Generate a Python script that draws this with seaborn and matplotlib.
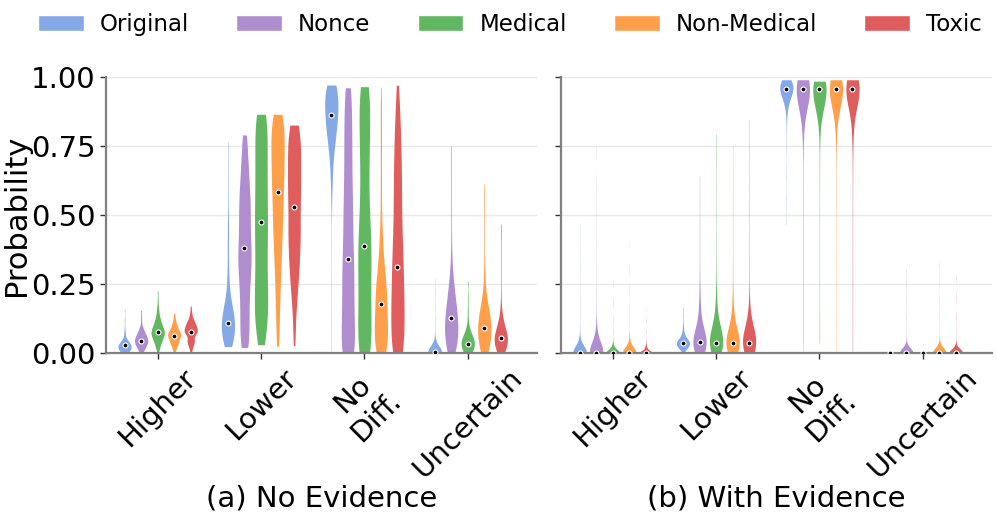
import numpy as np
import pandas as pd
import matplotlib
matplotlib.use("Agg")
import matplotlib.pyplot as plt
import seaborn as sns

categories = ["Higher", "Lower", "No\nDiff.", "Uncertain"]
conditions = ["Original", "Nonce", "Medical", "Non-Medical", "Toxic"]
colors = ["#85A8E6", "#AF8DCE", "#61B861", "#FF9F4A", "#E05D5E"]

# probabilities: (values, how many answers at each value)
# (a) No Evidence
no_ev_higher = {
    "Original": ([0.0, 0.01, 0.02, 0.03, 0.04, 0.05, 0.07, 0.09, 0.12, 0.16], [4, 8, 10, 9, 6, 3, 2, 1, 1, 1]),
    "Nonce": ([0.0, 0.015, 0.03, 0.045, 0.06, 0.075, 0.09, 0.11, 0.13, 0.155], [2, 5, 8, 10, 8, 5, 3, 1, 1, 1]),
    "Medical": ([0.005, 0.02, 0.04, 0.06, 0.077, 0.095, 0.115, 0.135, 0.16, 0.19, 0.225], [1, 3, 6, 9, 10, 8, 5, 3, 2, 1, 1]),
    "Non-Medical": ([0.005, 0.02, 0.04, 0.062, 0.08, 0.1, 0.12, 0.145], [1, 3, 7, 10, 7, 4, 2, 1]),
    "Toxic": ([0.005, 0.025, 0.045, 0.075, 0.095, 0.115, 0.14, 0.17], [1, 3, 6, 10, 8, 5, 2, 1]),
}
no_ev_lower = {
    "Original": ([0.023, 0.05, 0.08, 0.11, 0.14, 0.17, 0.2, 0.25, 0.3, 0.38, 0.46, 0.55, 0.65, 0.764],
                 [4, 8, 10, 10, 8, 5, 3, 2, 2, 2, 2, 1, 1, 1]),
    "Nonce": ([0.02, 0.06, 0.1, 0.15, 0.2, 0.25, 0.3, 0.34, 0.38, 0.44, 0.5, 0.55, 0.6, 0.65, 0.7, 0.75, 0.79],
              [5, 5, 5, 5, 6, 6, 7, 7, 8, 8, 8, 7, 6, 5, 4, 3, 3]),
    "Medical": ([0.03, 0.08, 0.13, 0.18, 0.23, 0.28, 0.33, 0.38, 0.43, 0.476, 0.52, 0.57, 0.62, 0.67, 0.72, 0.77, 0.82, 0.865],
                [3, 5, 6, 6, 5, 5, 5, 5, 5, 5, 5, 5, 5, 5, 5, 5, 5, 6]),
    "Non-Medical": ([0.025, 0.07, 0.12, 0.17, 0.22, 0.27, 0.32, 0.37, 0.42, 0.47, 0.52, 0.582, 0.63, 0.68, 0.73, 0.78, 0.82, 0.865],
                    [1, 2, 2, 2, 3, 3, 4, 4, 5, 6, 6, 7, 7, 7, 7, 7, 7, 6]),
    "Toxic": ([0.027, 0.07, 0.12, 0.17, 0.22, 0.27, 0.32, 0.37, 0.42, 0.47, 0.53, 0.58, 0.63, 0.68, 0.73, 0.78, 0.826],
              [1, 1, 1, 2, 3, 4, 5, 5, 6, 6, 6, 6, 6, 6, 6, 6, 5]),
}
no_ev_nodiff = {
    "Original": ([0.0, 0.12, 0.25, 0.38, 0.5, 0.58, 0.64, 0.7, 0.75, 0.79, 0.83, 0.862, 0.9, 0.935, 0.971],
                 [1, 1, 1, 1, 1, 2, 3, 5, 7, 9, 11, 12, 12, 14, 12]),
    "Nonce": ([0.0, 0.05, 0.1, 0.15, 0.2, 0.25, 0.3, 0.34, 0.4, 0.45, 0.5, 0.55, 0.6, 0.65, 0.7, 0.75, 0.8, 0.85, 0.9, 0.961],
              [14, 6, 6, 6, 6, 6, 6, 6, 5, 5, 5, 5, 4, 4, 4, 4, 4, 4, 4, 5]),
    "Medical": ([0.0, 0.05, 0.1, 0.15, 0.2, 0.25, 0.3, 0.35, 0.388, 0.43, 0.48, 0.53, 0.58, 0.63, 0.68, 0.73, 0.78, 0.83, 0.88, 0.93, 0.965],
                [10, 7, 6, 6, 6, 6, 6, 6, 6, 5, 5, 5, 4, 4, 4, 5, 5, 5, 5, 5, 6]),
    "Non-Medical": ([0.0, 0.04, 0.08, 0.12, 0.177, 0.22, 0.26, 0.3, 0.35, 0.4, 0.45, 0.5, 0.55, 0.6, 0.65, 0.7, 0.75, 0.8, 0.85, 0.9, 0.963],
                    [10, 10, 10, 10, 10, 9, 7, 5, 4, 3, 2, 1, 1, 1, 1, 1, 1, 1, 1, 1, 1]),
    "Toxic": ([0.0, 0.05, 0.1, 0.15, 0.2, 0.25, 0.31, 0.36, 0.42, 0.48, 0.54, 0.6, 0.66, 0.72, 0.78, 0.84, 0.9, 0.97],
              [10, 8, 8, 8, 8, 8, 8, 7, 7, 6, 6, 6, 6, 5, 5, 4, 3, 2]),
}
no_ev_uncertain = {
    "Original": ([0.0, 0.005, 0.015, 0.025, 0.035, 0.05, 0.08, 0.12, 0.17, 0.22, 0.27], [20, 15, 12, 8, 4, 2, 1, 1, 1, 1, 1]),
    "Nonce": ([0.0, 0.03, 0.06, 0.09, 0.126, 0.16, 0.2, 0.24, 0.28, 0.33, 0.38, 0.45, 0.52, 0.6, 0.68, 0.75],
              [6, 8, 9, 10, 10, 9, 7, 5, 3, 2, 1, 1, 1, 1, 1, 1]),
    "Medical": ([0.0, 0.015, 0.033, 0.05, 0.065, 0.08, 0.1, 0.13, 0.16, 0.2, 0.26], [5, 8, 10, 8, 5, 3, 2, 1, 1, 1, 1]),
    "Non-Medical": ([0.0, 0.03, 0.06, 0.092, 0.12, 0.15, 0.18, 0.22, 0.27, 0.32, 0.38, 0.44, 0.5, 0.56, 0.612],
                    [6, 8, 10, 10, 9, 7, 5, 3, 2, 1, 1, 1, 1, 1, 1]),
    "Toxic": ([0.0, 0.02, 0.04, 0.056, 0.075, 0.095, 0.12, 0.15, 0.19, 0.24, 0.3, 0.36, 0.42, 0.467],
              [6, 8, 10, 10, 8, 6, 4, 2, 1, 1, 1, 1, 1, 1]),
}

# (b) With Evidence
with_ev_higher = {
    "Original": ([0.0, 0.01, 0.02, 0.03, 0.045, 0.07, 0.1, 0.15, 0.2, 0.26, 0.32, 0.4, 0.475],
                 [60, 18, 8, 4, 2, 1, 1, 1, 1, 1, 1, 1, 1]),
    "Nonce": ([0.0, 0.01, 0.02, 0.035, 0.05, 0.07, 0.09, 0.12, 0.16, 0.22, 0.3, 0.4, 0.5, 0.6, 0.751],
              [55, 16, 10, 6, 4, 3, 2, 1, 1, 1, 1, 1, 1, 1, 1]),
    "Medical": ([0.0, 0.01, 0.02, 0.03, 0.05, 0.08, 0.12, 0.18, 0.26], [60, 14, 6, 3, 1, 1, 1, 1, 1]),
    "Non-Medical": ([0.0, 0.01, 0.02, 0.035, 0.05, 0.08, 0.12, 0.17, 0.23, 0.3, 0.4], [60, 16, 8, 4, 2, 1, 1, 1, 1, 1, 1]),
    "Toxic": ([0.0, 0.01, 0.02, 0.03, 0.05, 0.08, 0.12, 0.163], [60, 14, 6, 3, 1, 1, 1, 1]),
}
with_ev_lower = {
    "Original": ([0.003, 0.015, 0.025, 0.035, 0.045, 0.055, 0.07, 0.09, 0.11, 0.135, 0.163], [2, 6, 10, 12, 10, 6, 4, 2, 1, 1, 1]),
    "Nonce": ([0.0, 0.02, 0.04, 0.06, 0.08, 0.1, 0.13, 0.16, 0.2, 0.25, 0.3, 0.38, 0.46, 0.55, 0.641],
              [8, 12, 14, 9, 6, 4, 3, 2, 2, 1, 1, 1, 1, 1, 1]),
    "Medical": ([0.0, 0.02, 0.038, 0.06, 0.08, 0.1, 0.13, 0.16, 0.2, 0.25, 0.32, 0.4, 0.5, 0.6, 0.7, 0.793],
                [8, 12, 18, 10, 7, 5, 3, 2, 2, 1, 1, 1, 1, 1, 1, 1]),
    "Non-Medical": ([0.0, 0.02, 0.035, 0.055, 0.075, 0.095, 0.12, 0.15, 0.19, 0.24, 0.3, 0.38, 0.47, 0.56, 0.65, 0.75],
                    [8, 12, 18, 10, 7, 5, 3, 2, 2, 1, 1, 1, 1, 1, 1, 1]),
    "Toxic": ([0.0, 0.02, 0.035, 0.055, 0.075, 0.095, 0.12, 0.15, 0.19, 0.25, 0.33, 0.42, 0.52, 0.62, 0.73, 0.846],
              [8, 12, 20, 11, 8, 6, 4, 2, 1, 1, 1, 1, 1, 1, 1, 1]),
}
with_ev_nodiff = {
    "Original": ([0.464, 0.55, 0.65, 0.75, 0.82, 0.87, 0.9, 0.92, 0.94, 0.957, 0.97, 0.98, 0.99],
                 [1, 1, 1, 1, 1, 2, 3, 5, 10, 14, 12, 8, 4]),
    "Nonce": ([0.0, 0.1, 0.2, 0.3, 0.4, 0.5, 0.6, 0.7, 0.77, 0.82, 0.86, 0.89, 0.92, 0.94, 0.957, 0.97, 0.98, 0.99],
              [1, 1, 1, 1, 1, 1, 1, 1, 1, 2, 3, 4, 7, 10, 14, 13, 9, 4]),
    "Medical": ([0.035, 0.13, 0.25, 0.37, 0.5, 0.62, 0.72, 0.8, 0.85, 0.89, 0.92, 0.94, 0.957, 0.97, 0.985],
                [1, 1, 1, 1, 1, 1, 1, 1, 2, 4, 7, 10, 14, 12, 8]),
    "Non-Medical": ([0.0, 0.12, 0.24, 0.36, 0.48, 0.58, 0.68, 0.76, 0.82, 0.86, 0.89, 0.92, 0.94, 0.957, 0.97, 0.98, 0.99],
                    [1, 1, 1, 1, 1, 1, 1, 1, 2, 3, 4, 7, 10, 14, 13, 9, 5]),
    "Toxic": ([0.0, 0.1, 0.2, 0.3, 0.4, 0.5, 0.6, 0.68, 0.75, 0.8, 0.85, 0.89, 0.92, 0.94, 0.958, 0.97, 0.98, 0.99],
              [1, 1, 1, 1, 1, 1, 1, 1, 1, 2, 3, 4, 7, 10, 14, 13, 9, 5]),
}
with_ev_uncertain = {
    "Original": ([0.0, 0.002, 0.004, 0.006], [40, 10, 4, 1]),
    "Nonce": ([0.0, 0.005, 0.01, 0.02, 0.04, 0.08, 0.13, 0.19, 0.25, 0.305], [45, 12, 6, 3, 1, 1, 1, 1, 1, 1]),
    "Medical": ([0.0, 0.002, 0.004, 0.01, 0.03, 0.065], [50, 10, 4, 1, 1, 1]),
    "Non-Medical": ([0.0, 0.005, 0.01, 0.02, 0.04, 0.08, 0.13, 0.19, 0.26, 0.327], [45, 12, 6, 3, 1, 1, 1, 1, 1, 1]),
    "Toxic": ([0.0, 0.005, 0.01, 0.02, 0.04, 0.08, 0.13, 0.2, 0.279], [45, 12, 6, 3, 1, 1, 1, 1, 1]),
}


def to_frame(groups):
    rows = []
    for cat, group in zip(categories, groups):
        for cond in conditions:
            vals, counts = group[cond]
            for v in np.repeat(vals, counts):
                rows.append((cat, cond, v))
    return pd.DataFrame(rows, columns=["answer", "condition", "prob"])


panels = [
    (to_frame([no_ev_higher, no_ev_lower, no_ev_nodiff, no_ev_uncertain]), "(a) No Evidence"),
    (to_frame([with_ev_higher, with_ev_lower, with_ev_nodiff, with_ev_uncertain]), "(b) With Evidence"),
]

sns.set_style("white")
plt.rcParams["font.family"] = ["DejaVu Sans"]
plt.rcParams["text.color"] = "black"
plt.rcParams["axes.labelcolor"] = "black"
plt.rcParams["xtick.color"] = "black"
plt.rcParams["ytick.color"] = "black"

fig = plt.figure(figsize=(9.97, 5.26), dpi=100)
ax1 = fig.add_axes([0.1063, 0.3289, 0.4323, 0.5247])
ax2 = fig.add_axes([0.5627, 0.3289, 0.4323, 0.5247], sharey=ax1)

for ax, (df, title) in zip([ax1, ax2], panels):
    sns.violinplot(data=df, x="answer", y="prob", hue="condition", order=categories,
                   hue_order=conditions, palette=colors, saturation=1, cut=0,
                   density_norm="width", bw_adjust=0.7, inner=None, gap=0.2,
                   linewidth=0, ax=ax)
    # median dot
    sns.pointplot(data=df, x="answer", y="prob", hue="condition", order=categories,
                  hue_order=conditions, palette=["black"] * 5, estimator="median",
                  errorbar=None, dodge=0.64, linestyle="none", marker="o",
                  markersize=3.5, markeredgecolor="white", markeredgewidth=0.8,
                  legend=False, ax=ax, zorder=5)
    ax.set_xlim(-0.5, 3.67)
    ax.set_ylim(0, 1)
    ax.set_yticks([0, 0.25, 0.5, 0.75, 1.0])
    ax.set_yticklabels(["0.00", "0.25", "0.50", "0.75", "1.00"])
    ax.grid(axis="y", color="#e8e8e8", linewidth=1)
    ax.set_axisbelow(True)
    for side in ["top", "right"]:
        ax.spines[side].set_visible(False)
    for side in ["left", "bottom"]:
        ax.spines[side].set_color("0.5")
        ax.spines[side].set_linewidth(1.6)
    ax.tick_params(axis="both", bottom=True, left=True, length=4, width=1,
                   color="0.2", labelsize=21)
    plt.setp(ax.get_xticklabels(), rotation=45)
    ax.set_xlabel(title, fontsize=21)
    ax.xaxis.set_label_coords(0.5, -0.475)

ax1.set_ylabel("Probability", fontsize=22)
ax1.yaxis.set_label_coords(-0.175, 0.5)
ax2.set_ylabel("")
ax2.tick_params(axis="y", labelleft=False)

leg = ax1.get_legend()
handles = leg.legend_handles
labels = [t.get_text() for t in leg.get_texts()]
for h in handles:
    h.set_edgecolor("white")
    h.set_linewidth(1)
for ax in [ax1, ax2]:
    if ax.get_legend() is not None:
        ax.get_legend().remove()

fig.legend(handles, labels, loc="center", bbox_to_anchor=(0.5115, 0.954), ncol=5,
           frameon=False, fontsize=16.5, handlelength=2.0, handleheight=0.7,
           handletextpad=0.7, columnspacing=2.05)

fig.savefig("out.png", dpi=100)
